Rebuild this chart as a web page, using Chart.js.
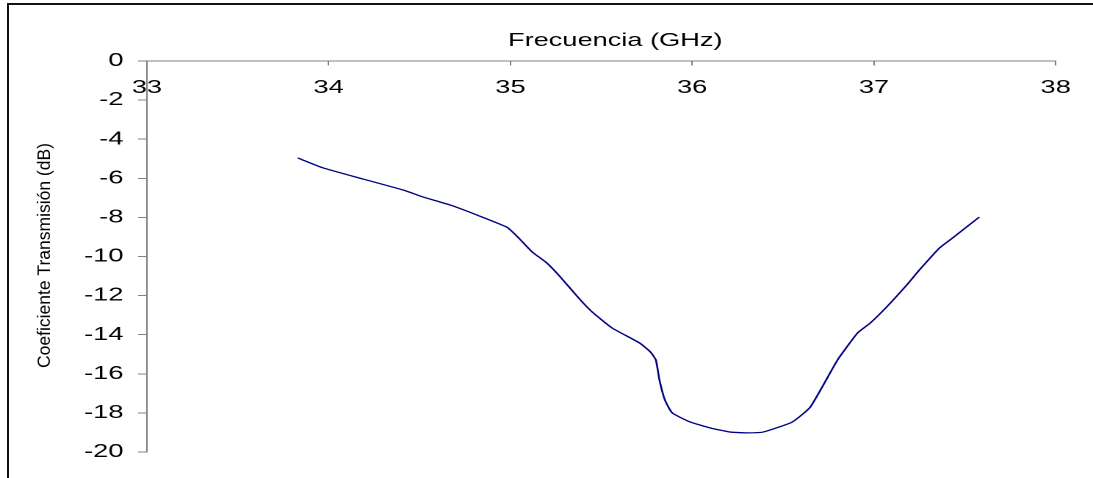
<!DOCTYPE html>
<html>
<head>
<meta charset="utf-8">
<script src="https://cdn.jsdelivr.net/npm/chart.js@4.4.1/dist/chart.umd.min.js"></script>
<style>
html,body{margin:0;padding:0;background:#fff;overflow:hidden;}
#frame{position:absolute;left:7px;top:3px;width:1200px;height:600px;border-top:2px solid #111;border-left:2px solid #111;}
#wrap{position:absolute;left:0;top:0;width:744px;height:478px;transform:scaleX(1.4691);transform-origin:0 0;}
</style>
</head>
<body>
<div id="frame"></div>
<div id="wrap"><canvas id="chart"></canvas></div>
<script>
// the original picture is stretched sideways, so the canvas is drawn narrow and widened
const STRETCH=1093/744;

const xTitle="Frecuencia (GHz)";
const yTitle="Coeficiente Transmisión (dB)";
const freq=[33.83,33.97,34.19,34.41,34.52,34.67,34.83,34.98,35.04,35.12,35.20,35.27,35.38,35.45,35.56,35.71,35.77,35.80,35.82,35.85,35.89,35.99,36.10,36.21,36.30,36.39,36.55,36.65,36.80,36.91,36.98,37.07,37.18,37.25,37.36,37.44,37.58];
const trans=[-4.96,-5.47,-6.04,-6.60,-6.96,-7.37,-7.93,-8.50,-9.00,-9.77,-10.33,-11.00,-12.17,-12.84,-13.66,-14.42,-14.88,-15.29,-16.32,-17.34,-18.00,-18.47,-18.77,-18.98,-19.02,-18.98,-18.47,-17.70,-15.29,-13.91,-13.40,-12.58,-11.46,-10.69,-9.57,-9.00,-7.98];
const xTicks=[33,34,35,36,37,38];
const yTicks=[0,-2,-4,-6,-8,-10,-12,-14,-16,-18,-20];

const fontFam="'Liberation Sans', Arial, sans-serif";
const axisGray="#808080";

const axisTitles={
    id:"axisTitles",
    afterDraw(chart){
        const ctx=chart.ctx;
        const area=chart.chartArea;
        ctx.save();
        ctx.fillStyle="#000";
        ctx.textAlign="center";
        ctx.textBaseline="alphabetic";
        ctx.font="18.5px "+fontFam;
        ctx.fillText(xTitle,(area.left+area.right)/2+9.5,area.top-15);
        ctx.translate(30.6,(area.top+area.bottom)/2-1);
        ctx.scale(1/STRETCH,1);
        ctx.rotate(-Math.PI/2);
        ctx.font="17.5px "+fontFam;
        ctx.textBaseline="middle";
        ctx.fillText(yTitle,0,0);
        ctx.restore();
    }
};

const points=freq.map((f,i)=>({x:f,y:trans[i]}));

new Chart(document.getElementById("chart"),{
    type:"line",
    data:{
        datasets:[{
            data:points,
            borderColor:"#000080",
            borderWidth:1.3,
            pointRadius:0,
            tension:0.15,
            fill:false
        }]
    },
    options:{
        responsive:true,
        maintainAspectRatio:false,
        devicePixelRatio:2,
        animation:false,
        layout:{
            padding:{top:61,bottom:26,right:25.4,left:0}
        },
        plugins:{
            legend:{display:false},
            tooltip:{enabled:false}
        },
        scales:{
            x:{
                type:"linear",
                position:{y:0},
                min:xTicks[0],
                max:xTicks[xTicks.length-1],
                afterBuildTicks:s=>{s.ticks=xTicks.map(v=>({value:v}));},
                grid:{display:true,drawOnChartArea:false,drawTicks:true,tickLength:4,color:axisGray},
                border:{display:true,color:axisGray,width:1},
                ticks:{color:"#000",font:{family:fontFam,size:18.5},padding:12,maxRotation:0}
            },
            y:{
                type:"linear",
                position:"left",
                min:-20,
                max:0,
                afterBuildTicks:s=>{s.ticks=yTicks.map(v=>({value:v}));},
                afterFit:s=>{s.width=100;},
                grid:{display:true,drawOnChartArea:false,drawTicks:true,tickLength:6,color:axisGray},
                border:{display:true,color:axisGray,width:1},
                ticks:{color:"#000",font:{family:fontFam,size:18.5},padding:10}
            }
        }
    },
    plugins:[axisTitles]
});
</script>
</body>
</html>
